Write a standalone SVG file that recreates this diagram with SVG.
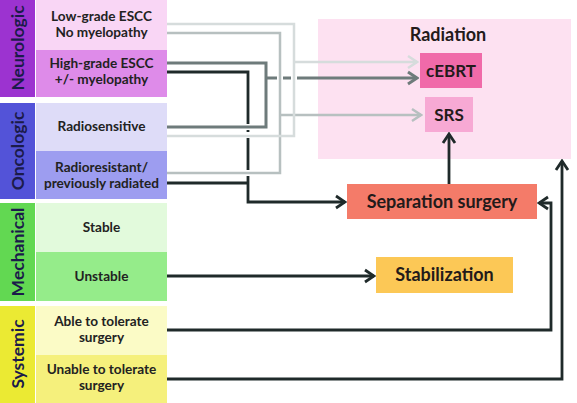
<svg xmlns="http://www.w3.org/2000/svg" width="577" height="403" viewBox="0 0 577 403">
<style>
  .cat { font-family: Lato, "Liberation Sans", sans-serif; font-weight: bold; font-size: 17.5px; fill: #1b1b4a; text-anchor: middle; }
  .opt { font-family: Lato, "Liberation Sans", sans-serif; font-weight: bold; font-size: 13.6px; fill: #222; text-anchor: middle; }
  .tx { font-family: Lato, "Liberation Sans", sans-serif; font-weight: bold; font-size: 18px; fill: #231a1a; text-anchor: middle; }
  .ln { fill: none; stroke-linejoin: miter; }
  .blk { stroke: #1f2a2a; stroke-width: 2.8; }
  .med { stroke: #6e7b7b; stroke-width: 3; }
  .lt2 { stroke: #b7c0c0; stroke-width: 2.5; }
  .lt1 { stroke: #d6dcdc; stroke-width: 2.5; }
  .gap { stroke: #ffffff; stroke-width: 6; }
</style>
<defs>
  <marker id="aBlk" viewBox="-11 -8 13 16" markerWidth="13" markerHeight="16" refX="0" refY="0" orient="auto" markerUnits="userSpaceOnUse">
    <path d="M-9,-6 L0,0 L-9,6" fill="none" stroke="#1f2a2a" stroke-width="2.8"/>
  </marker>
  <marker id="aMed" viewBox="-11 -8 13 16" markerWidth="13" markerHeight="16" refX="0" refY="0" orient="auto" markerUnits="userSpaceOnUse">
    <path d="M-9,-6 L0,0 L-9,6" fill="none" stroke="#6e7b7b" stroke-width="3"/>
  </marker>
  <marker id="aLt2" viewBox="-11 -8 13 16" markerWidth="13" markerHeight="16" refX="0" refY="0" orient="auto" markerUnits="userSpaceOnUse">
    <path d="M-9,-6 L0,0 L-9,6" fill="none" stroke="#b7c0c0" stroke-width="2.5"/>
  </marker>
  <marker id="aLt1" viewBox="-11 -8 13 16" markerWidth="13" markerHeight="16" refX="0" refY="0" orient="auto" markerUnits="userSpaceOnUse">
    <path d="M-9,-6 L0,0 L-9,6" fill="none" stroke="#d6dcdc" stroke-width="2.5"/>
  </marker>
</defs>
<rect width="577" height="403" fill="#ffffff"/>

<g id="neurologic">
  <rect x="0" y="0" width="35" height="97" fill="#9c33d0"/>
  <text class="cat" transform="translate(23.5,48) rotate(-90)">Neurologic</text>
</g>
<g id="low-grade">
  <rect x="36" y="0" width="131" height="50" fill="#f9d6f5"/>
  <text class="opt" x="101.5" y="21">Low-grade ESCC</text>
  <text class="opt" x="101.5" y="37">No myelopathy</text>
</g>
<g id="high-grade">
  <rect x="36" y="50" width="131" height="47" fill="#de8be9"/>
  <text class="opt" x="101.5" y="68">High-grade ESCC</text>
  <text class="opt" x="101.5" y="84">+/- myelopathy</text>
</g>

<g id="oncologic">
  <rect x="0" y="103" width="35" height="96" fill="#5353d8"/>
  <text class="cat" transform="translate(23.5,151) rotate(-90)">Oncologic</text>
</g>
<g id="radiosensitive">
  <rect x="36" y="103" width="131" height="48" fill="#dedcf8"/>
  <text class="opt" x="101.5" y="131">Radiosensitive</text>
</g>
<g id="radioresistant">
  <rect x="36" y="151" width="131" height="48" fill="#9d9df0"/>
  <text class="opt" x="101.5" y="172">Radioresistant/</text>
  <text class="opt" x="101.5" y="188">previously radiated</text>
</g>

<g id="mechanical">
  <rect x="0" y="203" width="35" height="98" fill="#62d852"/>
  <text class="cat" transform="translate(23.5,252) rotate(-90)">Mechanical</text>
</g>
<g id="stable">
  <rect x="36" y="203" width="131" height="49" fill="#e2fadc"/>
  <text class="opt" x="101.5" y="232">Stable</text>
</g>
<g id="unstable">
  <rect x="36" y="252" width="131" height="49" fill="#95ec8a"/>
  <text class="opt" x="101.5" y="281">Unstable</text>
</g>

<g id="systemic">
  <rect x="0" y="306" width="35" height="97" fill="#ebea33"/>
  <text class="cat" transform="translate(23.5,354) rotate(-90)">Systemic</text>
</g>
<g id="able">
  <rect x="36" y="306" width="131" height="49" fill="#fbfbc6"/>
  <text class="opt" x="101.5" y="326">Able to tolerate</text>
  <text class="opt" x="101.5" y="342">surgery</text>
</g>
<g id="unable">
  <rect x="36" y="355" width="131" height="48" fill="#f5f07c"/>
  <text class="opt" x="101.5" y="374">Unable to tolerate</text>
  <text class="opt" x="101.5" y="390">surgery</text>
</g>

<g id="radiation">
  <rect x="318" y="19" width="253" height="140" fill="#fde1f1"/>
  <text class="tx" x="448" y="41">Radiation</text>
</g>
<g id="cebrt">
  <rect x="420" y="53" width="62" height="35" fill="#f06aa9"/>
  <text class="tx" x="451" y="77" style="font-size:17px">cEBRT</text>
</g>
<g id="srs">
  <rect x="425" y="97" width="48" height="35" fill="#f7a9d4"/>
  <text class="tx" x="449" y="121" style="font-size:17px">SRS</text>
</g>
<g id="separation-surgery">
  <rect x="347" y="184" width="190" height="35" fill="#f47b69"/>
  <text class="tx" x="442" y="208">Separation surgery</text>
</g>
<g id="stabilization">
  <rect x="376" y="257" width="137" height="36" fill="#fcc856"/>
  <text class="tx" x="444.5" y="281">Stabilization</text>
</g>

<g id="connectors">
  <path class="ln blk" d="M167,72 H248 V202 H345" marker-end="url(#aBlk)"/>
  <path class="ln blk" d="M167,183 H248"/>
  <path class="ln blk" d="M449,184 V134" marker-end="url(#aBlk)"/>
  <path class="ln blk" d="M167,276 H374" marker-end="url(#aBlk)"/>
  <path class="ln blk" d="M167,330 H551 V203 H539" marker-end="url(#aBlk)"/>
  <path class="ln blk" d="M167,379 H562 V161" marker-end="url(#aBlk)"/>
  <path class="ln gap" d="M244,127 H252 M244,135 H252 M244,173 H252"/>
  <path class="ln med" d="M167,63 H266 V127 H167"/>
  <path class="ln med" d="M266,78 H417" marker-end="url(#aMed)"/>
  <path class="ln gap" d="M280,73 V83 M294,73 V83"/>
  <path class="ln lt2" d="M167,33 H280 V173 H167"/>
  <path class="ln lt2" d="M280,115 H421" marker-end="url(#aLt2)"/>
  <path class="ln lt1" d="M167,24 H294 V136 H167"/>
  <path class="ln lt1" d="M294,62 H417" marker-end="url(#aLt1)"/>
</g>
</svg>
